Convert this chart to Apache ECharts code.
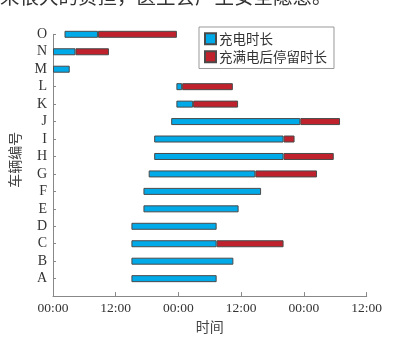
<!DOCTYPE html>
<html><head><meta charset="utf-8">
<script src="https://cdn.jsdelivr.net/npm/echarts@6/dist/echarts.min.js"></script>
<style>html,body{margin:0;padding:0;background:#fff}#c{width:411px;height:339px}</style>
</head><body><div id="c"></div>
<script>
// vehicle ids (bottom to top), first entry is an empty slot at the axis origin
const vehicles = ['', 'A','B','C','D','E','F','G','H','I','J','K','L','M','N','O'];
// charging start time (hours from first 00:00)
const startHours  = ['-', 15.0, 15.0, 15.0, 15.0, 17.3, 17.3, 18.3, 19.35, 19.35, 22.6, 23.6, 23.6, 0, 0, 2.2];
// charging duration (hours)
const chargeHours = ['-', 16.3, 19.5, 16.3, 16.3, 18.2, 22.5, 20.4, 24.75, 24.75, 24.7, 3.2, 1.1, 3.2, 4.3, 6.4];
// stay after full charge (hours)
const stayHours   = ['-', '-', '-', 12.8, '-', '-', '-', 11.8, 9.6, 2.1, 7.6, 8.6, 9.7, '-', 6.4, 15.1];
const xTicks = ['00:00','12:00'];
const seriesNames = ['充电时长','充满电后停留时长'];

const serif = '"Liberation Serif", "Times New Roman", serif';
const cjk = 'Noto Sans CJK SC';
const chart = echarts.init(document.getElementById('c'));
chart.setOption({
  animation: false,
  backgroundColor: '#fff',
  grid: {left: 51.3, right: 44.3, top: 34.3, bottom: 35.7},
  legend: {
    data: seriesNames, orient: 'vertical', left: 199, top: 27,
    itemWidth: 11, itemHeight: 11, itemGap: 4.5, padding: [5, 7, 5, 5],
    borderColor: '#999', borderWidth: 1, icon: 'rect',
    textStyle: {fontFamily: cjk, fontSize: 13.5, color: '#333', padding: [0,0,0,-2]}
  },
  graphic: [{
    type: 'text', left: 0, top: -13,
    style: {text: '来很大的负担，医生会产生安全隐患。', font: '19.5px "Noto Sans CJK SC"', fill: '#333'}
  }],
  xAxis: {
    type: 'value', min: 0, max: 60, interval: 12,
    name: '时间', nameLocation: 'middle', nameGap: 20,
    nameTextStyle: {fontFamily: cjk, fontSize: 14, color: '#444'},
    axisLine: {show: true, lineStyle: {color: '#888'}},
    axisTick: {show: true, inside: true, length: 4, lineStyle: {color: '#888'}},
    axisLabel: {fontFamily: serif, fontSize: 13.5, color: '#333', margin: 5,
      formatter: v => xTicks[(v / 12) % 2]},
    splitLine: {show: false}
  },
  yAxis: {
    type: 'category', data: vehicles, boundaryGap: false,
    name: '车辆编号', nameLocation: 'middle', nameGap: 31, nameRotate: 90,
    nameTextStyle: {fontFamily: cjk, fontSize: 14, color: '#444', padding: [0, 0, 0, 11]},
    axisLine: {show: true, lineStyle: {color: '#888'}},
    axisTick: {show: true, inside: true, length: 3, interval: 0, lineStyle: {color: '#888'}},
    axisLabel: {fontFamily: serif, fontSize: 14, color: '#333', margin: 6, interval: 0,
      showMaxLabel: true, showMinLabel: true},
    splitLine: {show: false}
  },
  series: [
    {type: 'bar', stack: 't', data: startHours, barWidth: 7, silent: true,
     itemStyle: {color: 'transparent'}},
    {type: 'bar', name: seriesNames[0], stack: 't', data: chargeHours, barWidth: 7,
     itemStyle: {color: '#00A9E8', borderColor: '#4a4a4a', borderWidth: 1}},
    {type: 'bar', name: seriesNames[1], stack: 't', data: stayHours, barWidth: 7,
     itemStyle: {color: '#C0222D', borderColor: '#4a4a4a', borderWidth: 1}}
  ]
});
</script></body></html>
